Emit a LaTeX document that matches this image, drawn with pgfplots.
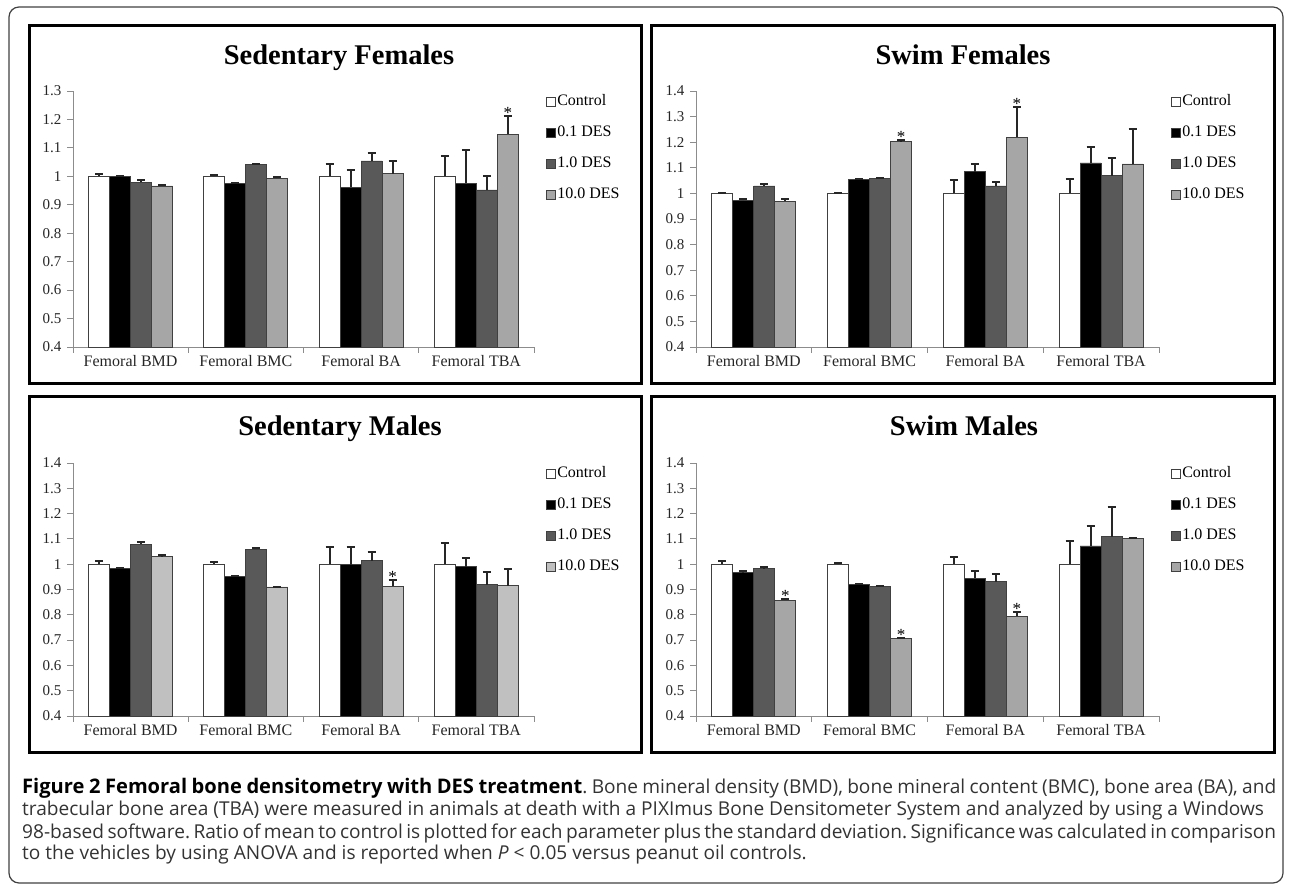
\documentclass[border=0pt]{standalone}
\usepackage{fontspec}
\setmainfont{Liberation Serif}
\newfontfamily\capfont{Open Sans}
\usepackage{pgfplots}
\pgfplotsset{compat=1.18}
\usepackage{pgfplotstable}
\hyphenpenalty=10000
\exhyphenpenalty=10000

\definecolor{dkgray}{HTML}{595959}
\definecolor{ltgray}{HTML}{A6A6A6}
\definecolor{ltgrayb}{HTML}{C0C0C0}
\definecolor{axgray}{HTML}{8C8C8C}
\definecolor{captext}{HTML}{333333}

% columns: category, control, err, 0.1 DES, err, 1.0 DES, err, 10.0 DES, err
\pgfplotstableread{
x c ce a ae b be d de
0 1.000 0.008 0.999 0.002 0.980 0.007 0.966 0.002
1 1.000 0.005 0.975 0.003 1.041 0.002 0.994 0.003
2 1.000 0.042 0.962 0.062 1.054 0.029 1.009 0.044
3 1.000 0.073 0.975 0.116 0.952 0.050 1.148 0.064
}\sedfem
\pgfplotstableread{
x c ce a ae b be d de
0 1.000 0.003 0.973 0.004 1.029 0.009 0.969 0.008
1 1.000 0.003 1.056 0.001 1.059 0.002 1.202 0.006
2 1.000 0.051 1.084 0.030 1.029 0.014 1.220 0.119
3 1.000 0.056 1.119 0.063 1.069 0.069 1.115 0.137
}\swimfem
\pgfplotstableread{
x c ce a ae b be d de
0 1.000 0.014 0.984 0.002 1.079 0.008 1.029 0.008
1 1.000 0.009 0.951 0.004 1.059 0.004 0.910 0.001
2 1.000 0.067 0.998 0.069 1.014 0.033 0.913 0.025
3 1.000 0.084 0.990 0.036 0.919 0.050 0.915 0.065
}\sedmal
\pgfplotstableread{
x c ce a ae b be d de
0 1.000 0.013 0.966 0.009 0.982 0.007 0.858 0.005
1 1.000 0.004 0.920 0.002 0.911 0.003 0.706 0.002
2 1.000 0.030 0.945 0.027 0.931 0.029 0.795 0.017
3 1.000 0.092 1.072 0.079 1.109 0.118 1.101 0.001
}\swimmal

\pgfplotsset{
  panel/.style={
    scale only axis,
    ybar=0pt, bar width=21pt,
    xmin=-0.5, xmax=3.5, ymin=0.4,
    clip=false,
    axis x line*=bottom, axis y line*=left,
    axis line style={axgray, line width=0.9pt, -},
    tick align=outside,
    major tick length=6pt,
    tick style={axgray, line width=0.9pt},
    xtick={-0.5,0.5,1.5,2.5,3.5}, xticklabels={},
    extra x ticks={0,1,2,3},
    extra x tick labels={Femoral BMD,Femoral BMC,Femoral BA,Femoral TBA},
    extra x tick style={major tick length=0pt},
    x tick label style={font=\fontsize{16}{16}\selectfont, text=black!85, yshift=-5pt},
    y tick label style={font=\fontsize{15}{15}\selectfont, text=black!85, xshift=-2pt},
    /pgf/number format/assume math mode=true,
    legend style={draw=none, fill=none, at={(1,1)}, anchor=north west,
      xshift=12pt, yshift=-2pt, inner sep=0pt, row sep=14pt,
      font=\fontsize{16}{16}\selectfont,
      nodes={inner sep=1.5pt, text height=11pt, text depth=3pt}},
    legend cell align=left,
    every axis plot post/.append style={
      draw=black!75, line width=0.8pt,
      legend image code/.code={\draw[##1, line width=0.6pt] (0pt,-4.5pt) rectangle (9pt,4.5pt);},
    },
  },
  eb/.style={error bars/.cd, y dir=plus, y explicit,
    error bar style={line width=2pt, black!85, solid},
    error mark=-,
    error mark options={rotate=90, line width=2pt, black!85, mark size=4pt}},
}
\tikzset{sigstar/.style={anchor=south, inner sep=0pt, yshift=-3pt, font=\fontsize{17}{17}\selectfont}}

\begin{document}
\begin{tikzpicture}
% outer frame and panel boxes
\draw[black!75, line width=1.2pt, rounded corners=10pt] (9pt,3pt) rectangle (1283pt,879pt);
\draw[black, line width=3pt] (29pt,502pt) rectangle (641pt,860pt);
\draw[black, line width=3pt] (651pt,502pt) rectangle (1274pt,860pt);
\draw[black, line width=3pt] (29pt,133pt) rectangle (641pt,489pt);
\draw[black, line width=3pt] (651pt,133pt) rectangle (1274pt,489pt);

% titles
\node[anchor=base, font=\fontsize{28.5}{28.5}\selectfont\bfseries] at (339pt,821pt) {Sedentary Females};
\node[anchor=base, font=\fontsize{28.5}{28.5}\selectfont\bfseries] at (963pt,821pt) {Swim Females};
\node[anchor=base, font=\fontsize{28.5}{28.5}\selectfont\bfseries] at (340pt,450pt) {Sedentary Males};
\node[anchor=base, font=\fontsize{28.5}{28.5}\selectfont\bfseries] at (964pt,450pt) {Swim Males};

% Sedentary Females
\begin{axis}[panel, at={(73pt,539pt)}, anchor=south west, width=461pt, height=256pt,
  ymax=1.3, ytick={0.4,0.5,0.6,0.7,0.8,0.9,1,1.1,1.2,1.3}]
\addplot[fill=white, eb] table[x=x, y=c, y error=ce]{\sedfem};
\addplot[fill=black, eb] table[x=x, y=a, y error=ae]{\sedfem};
\addplot[fill=dkgray, eb] table[x=x, y=b, y error=be]{\sedfem};
\addplot[fill=ltgray, eb] table[x=x, y=d, y error=de]{\sedfem};
\legend{Control, 0.1 DES, 1.0 DES, 10.0 DES}
\node[sigstar] at (axis cs:3.273,1.212) {*};
\end{axis}

% Swim Females
\begin{axis}[panel, at={(696pt,539pt)}, anchor=south west, width=463pt, height=256pt,
  ymax=1.4, ytick={0.4,0.5,0.6,0.7,0.8,0.9,1,1.1,1.2,1.3,1.4}]
\addplot[fill=white, eb] table[x=x, y=c, y error=ce]{\swimfem};
\addplot[fill=black, eb] table[x=x, y=a, y error=ae]{\swimfem};
\addplot[fill=dkgray, eb] table[x=x, y=b, y error=be]{\swimfem};
\addplot[fill=ltgray, eb] table[x=x, y=d, y error=de]{\swimfem};
\legend{Control, 0.1 DES, 1.0 DES, 10.0 DES}
\node[sigstar] at (axis cs:1.273,1.208) {*};
\node[sigstar] at (axis cs:2.273,1.339) {*};
\end{axis}

% Sedentary Males
\begin{axis}[panel, at={(73pt,170pt)}, anchor=south west, width=461pt, height=253pt,
  ymax=1.4, ytick={0.4,0.5,0.6,0.7,0.8,0.9,1,1.1,1.2,1.3,1.4}]
\addplot[fill=white, eb] table[x=x, y=c, y error=ce]{\sedmal};
\addplot[fill=black, eb] table[x=x, y=a, y error=ae]{\sedmal};
\addplot[fill=dkgray, eb] table[x=x, y=b, y error=be]{\sedmal};
\addplot[fill=ltgrayb, eb] table[x=x, y=d, y error=de]{\sedmal};
\legend{Control, 0.1 DES, 1.0 DES, 10.0 DES}
\node[sigstar] at (axis cs:2.273,0.938) {*};
\end{axis}

% Swim Males
\begin{axis}[panel, at={(696pt,170pt)}, anchor=south west, width=463pt, height=253pt,
  ymax=1.4, ytick={0.4,0.5,0.6,0.7,0.8,0.9,1,1.1,1.2,1.3,1.4}]
\addplot[fill=white, eb] table[x=x, y=c, y error=ce]{\swimmal};
\addplot[fill=black, eb] table[x=x, y=a, y error=ae]{\swimmal};
\addplot[fill=dkgray, eb] table[x=x, y=b, y error=be]{\swimmal};
\addplot[fill=ltgray, eb] table[x=x, y=d, y error=de]{\swimmal};
\legend{Control, 0.1 DES, 1.0 DES, 10.0 DES}
\node[sigstar] at (axis cs:0.273,0.863) {*};
\node[sigstar] at (axis cs:1.273,0.708) {*};
\node[sigstar] at (axis cs:2.273,0.812) {*};
\end{axis}

% caption
\node[anchor=base west, inner sep=0pt, text width=1254pt, align=justify,
  font=\capfont\fontsize{19.1}{22}\selectfont\frenchspacing, text=captext] at (22pt,92pt)
{\textcolor{black}{\fontsize{20.1}{22}\selectfont\textbf{Figure 2 Femoral bone densitometry with DES treatment}}. Bone mineral density (BMD), bone mineral content (BMC), bone area (BA), and\linebreak
trabecular bone area (TBA) were measured in animals at death with a PIXImus Bone Densitometer System and analyzed by using a Windows\newline
98-based software. Ratio of mean to control is plotted for each parameter plus the standard deviation. Significance was calculated in comparison\linebreak
to the vehicles by using ANOVA and is reported when \textit{P} < 0.05 versus peanut oil controls.};

\pgfresetboundingbox
\path (0pt,0pt) rectangle (1290pt,886pt);
\end{tikzpicture}
\end{document}
